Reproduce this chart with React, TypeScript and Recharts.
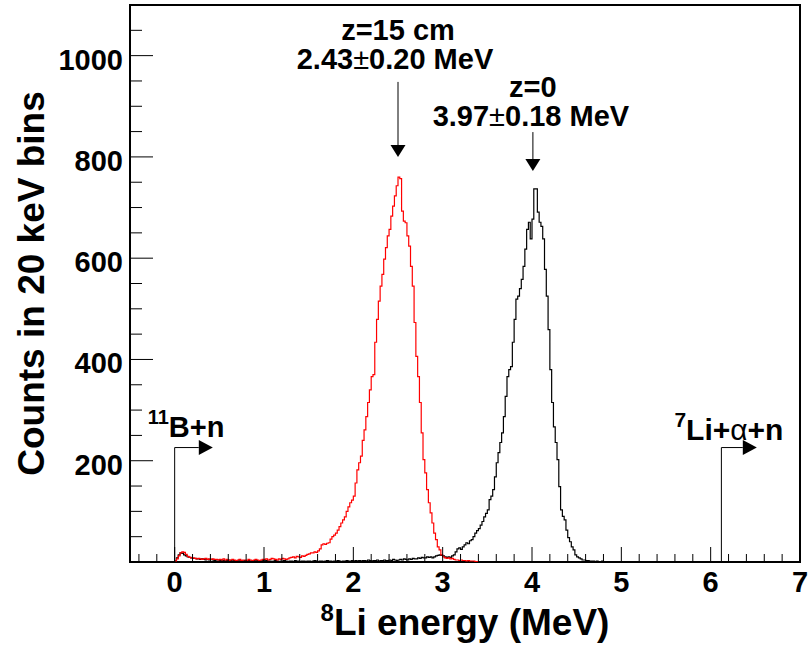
import { LineChart, Line, XAxis, YAxis, ReferenceArea, ReferenceLine, ReferenceDot, Label } from 'recharts';

// 20 keV bins starting at 0 MeV
const BIN = 0.02;

// z=15 cm (red)
const redCounts = [
  2, 6, 12, 18, 20, 19, 15, 11, 9, 8, 8,
  7, 6, 7, 6, 5, 6, 7, 5, 6, 5, 6, 5, 5, 4,
  5, 4, 6, 4, 5, 3, 4, 5, 4, 3, 4, 5, 3, 4, 4, 3, 5, 4, 3, 4, 5, 4, 3, 4, 5,
  5, 6, 4, 5, 7, 6, 5, 4, 6, 5, 7, 6, 5, 6, 8,
  9, 10, 8, 11, 10, 9, 12, 11, 13, 15,
  16, 18, 18, 20, 19, 22, 26, 34, 36, 35, 37, 38,
  45, 50, 53, 57, 63, 70, 77, 83, 89, 100, 109, 117, 122,
  130, 156, 182, 196, 209, 240, 261, 287, 315, 340, 366, 370, 434, 479, 515, 545, 568, 598, 621, 644, 657, 683, 703, 723, 743, 760, 757,
  693, 673, 670, 644, 624, 584, 545, 473, 406, 366, 315, 255, 202, 176, 143, 117, 97, 77, 57, 44, 30, 24, 14, 10,
  8, 7, 8, 6, 7, 5,
  4, 4, 3, 4, 3, 3, 2, 3, 2, 2, 2, 1, 1,
];

// z=0 (black)
const blackCounts = [
  2, 8, 14, 18, 17, 14, 12, 10, 9, 8,
  7, 7, 6, 6, 5, 6, 5, 4, 5, 4, 5, 4, 3, 4, 4,
  3, 4, 3, 2, 3, 4, 3, 2, 3, 3, 2, 4, 3, 2, 3, 2, 3, 2, 2, 3, 2, 3, 2, 2, 3,
  2, 3, 2, 2, 1, 2, 3, 2, 1, 2, 2, 3, 2, 1, 2, 2, 1, 3, 2, 2, 1, 2, 2, 1, 2,
  2, 1, 2, 3, 2, 1, 2, 2, 1, 2, 3, 2, 2, 1, 2, 2, 3, 2, 1, 2, 2, 3, 2, 2, 3,
  2, 3, 2, 3, 2, 3, 3, 2, 4, 3, 2, 3, 3, 4, 2, 3, 3, 4, 3, 3, 4, 3, 5, 4, 3,
  4, 5, 4, 6, 5, 4, 6, 5, 7, 6, 6, 8, 7, 9, 8,
  8, 10, 9, 10, 8, 10, 12, 13, 14, 13, 12, 10, 9, 10, 9, 12, 14, 20, 26, 28, 25,
  30, 34, 38, 36, 42, 44, 50, 57, 62, 66, 73, 80, 89, 96, 103, 123, 130, 143, 168, 196,
  216, 236, 255, 287, 327, 366, 380, 386, 434, 479, 519, 525, 540, 558, 584, 618, 657, 671, 638, 677,
  737, 737, 691, 671, 663, 638, 578, 525, 459, 380, 315, 267, 236, 202, 149, 103, 90, 83, 63, 48,
  40, 30, 24, 14, 10, 8, 6, 4, 4, 3, 3, 2, 2, 2, 1, 2, 1, 1, 2, 1, 1, 0, 1, 1, 0, 1, 0, 0, 1,
];

const xDomain = [-0.5, 7];
const yDomain = [0, 1100];
const xTicks = Array.from({ length: 38 }, (_, k) => (k - 2) / 5); // -0.4 .. 7, minor every 0.2
const yTicks = Array.from({ length: 21 }, (_, k) => (k + 1) * 50); // 50 .. 1050
const yLabels = [200, 400, 600, 800, 1000];

// annotation anchors (MeV, counts)
const peakMarks = [
  { x: 2.5, y: 800, shaft: 75, top: 'z=15 cm', bottom: ['2.43', '0.20 MeV'], topDy: 117, bottomDy: 88, dx: -3 },
  { x: 4.01, y: 772, shaft: 39, top: 'z=0', bottom: ['3.97', '0.18 MeV'], topDy: 74, bottomDy: 45, dx: -2 },
];
const thresholds = [
  { x: 0, y: 226, len: 0.27 },
  { x: 6.12, y: 226, len: 0.24 },
];

const FONT = "'Liberation Sans', Arial, Helvetica, sans-serif";

const toSteps = (counts: number[]) => {
  const pts = counts.map((c, i) => ({ x: +(i * BIN).toFixed(2), y: c }));
  pts.push({ x: +(counts.length * BIN).toFixed(2), y: counts[counts.length - 1] });
  return pts;
};

const redData = toSteps(redCounts);
const blackData = toSteps(blackCounts);

const isInt = (v: number) => Math.abs(v - Math.round(v)) < 1e-6;

const XTick = ({ x, y, payload }: any) => {
  const major = isInt(payload.value);
  return (
    <g>
      <line x1={x} y1={y} x2={x} y2={y - (major ? 15 : 8)} stroke="#000" strokeWidth={1} />
      {major && payload.value >= 0 && (
        <text x={x} y={y + 30} textAnchor="middle" fontFamily={FONT} fontWeight="bold" fontSize={29} fill="#000">
          {Math.round(payload.value)}
        </text>
      )}
    </g>
  );
};

const YTick = ({ x, y, payload }: any) => {
  const major = yLabels.includes(payload.value);
  return (
    <g>
      <line x1={x} y1={y} x2={x + (major ? 23 : 12)} y2={y} stroke="#000" strokeWidth={1} />
      {major && (
        <text x={x - 7} y={y + 14} textAnchor="end" fontFamily={FONT} fontWeight="bold" fontSize={29} fill="#000">
          {payload.value}
        </text>
      )}
    </g>
  );
};

const YTitle = ({ viewBox }: any) => {
  const cx = 44;
  const cy = viewBox.y + viewBox.height / 2;
  return (
    <text x={cx} y={cy} transform={`rotate(-90, ${cx}, ${cy})`} textAnchor="middle"
      fontFamily={FONT} fontWeight="bold" fontSize={37} fill="#000">
      Counts in 20 keV bins
    </text>
  );
};

const XTitle = ({ viewBox }: any) => (
  <text x={viewBox.x + viewBox.width / 2} y={viewBox.y + 73} textAnchor="middle"
    fontFamily={FONT} fontWeight="bold" fontSize={37} fill="#000">
    <tspan fontSize={24} dy={-14}>8</tspan>
    <tspan dy={14}>Li energy (MeV)</tspan>
  </text>
);

const PeakArrow = (m: any) => ({ cx, cy }: any) => (
  <g>
    <line x1={cx} y1={cy - m.shaft} x2={cx} y2={cy - 11} stroke="#000" strokeWidth={1} />
    <polygon points={`${cx - 7.5},${cy - 12} ${cx + 7.5},${cy - 12} ${cx},${cy}`} fill="#000" />
    <text x={cx} y={cy - m.topDy} textAnchor="middle" fontFamily={FONT} fontWeight="bold" fontSize={29} fill="#000">
      {m.top}
    </text>
    <text x={cx + m.dx} y={cy - m.bottomDy} textAnchor="middle" fontFamily={FONT} fontWeight="bold" fontSize={29} fill="#000">
      {m.bottom[0]}
      <tspan fontWeight="normal">±</tspan>
      {m.bottom[1]}
    </text>
  </g>
);

const BHead = ({ cx, cy }: any) => (
  <g>
    <polygon points={`${cx},${cy - 7.5} ${cx},${cy + 7.5} ${cx + 14},${cy}`} fill="#000" />
  </g>
);

const BLabel = ({ cx, cy }: any) => (
  <text x={cx} y={cy} fontFamily={FONT} fontWeight="bold" fontSize={29} fill="#000">
    <tspan fontSize={20} dy={-13}>11</tspan>
    <tspan dy={13}>B+n</tspan>
  </text>
);

const LiLabel = ({ cx, cy }: any) => (
  <text x={cx} y={cy} fontFamily={FONT} fontWeight="bold" fontSize={30} fill="#000">
    <tspan fontSize={21} dy={-13}>7</tspan>
    <tspan dy={13}>Li+</tspan>
    <tspan fontWeight="normal">α</tspan>
    <tspan>+n</tspan>
  </text>
);

export default function App() {
  return (
    <div style={{ position: 'absolute', left: 0, top: 0, background: '#fff' }}>
      <LineChart width={808} height={648} margin={{ top: 5, right: 8, bottom: 0, left: 0 }}>
        <XAxis type="number" dataKey="x" domain={xDomain} allowDataOverflow ticks={xTicks} interval={0}
          tick={<XTick />} tickSize={0} tickMargin={0} tickLine={false} axisLine={false} height={86}>
          <Label content={<XTitle />} />
        </XAxis>
        <YAxis type="number" domain={yDomain} allowDataOverflow ticks={yTicks} interval={0}
          tick={<YTick />} tickSize={0} tickMargin={0} tickLine={false} axisLine={false} width={130}>
          <Label content={<YTitle />} />
        </YAxis>
        <Line data={blackData} dataKey="y" type="stepAfter" stroke="#000" strokeWidth={1.2}
          dot={false} activeDot={false} isAnimationActive={false} />
        <Line data={redData} dataKey="y" type="stepAfter" stroke="#ff0000" strokeWidth={1.2}
          dot={false} activeDot={false} isAnimationActive={false} />
        <ReferenceArea x1={xDomain[0]} x2={xDomain[1]} y1={yDomain[0]} y2={yDomain[1]}
          fill="none" fillOpacity={0} stroke="#000" strokeWidth={2} />
        {thresholds.map((t, i) => (
          <ReferenceLine key={`v${i}`} segment={[{ x: t.x, y: 0 }, { x: t.x, y: t.y }]} stroke="#000" strokeWidth={1} />
        ))}
        {thresholds.map((t, i) => (
          <ReferenceLine key={`h${i}`} segment={[{ x: t.x, y: t.y }, { x: t.x + t.len, y: t.y }]} stroke="#000" strokeWidth={1} />
        ))}
        {thresholds.map((t, i) => (
          <ReferenceDot key={`a${i}`} x={t.x + t.len} y={t.y} shape={<BHead />} />
        ))}
        <ReferenceDot x={thresholds[0].x} y={thresholds[0].y} shape={(p: any) => <BLabel cx={p.cx - 27} cy={p.cy - 11} />} />
        <ReferenceDot x={thresholds[1].x} y={thresholds[1].y} shape={(p: any) => <LiLabel cx={p.cx - 47} cy={p.cy - 8} />} />
        {peakMarks.map((m, i) => (
          <ReferenceDot key={`p${i}`} x={m.x} y={m.y} shape={PeakArrow(m)} />
        ))}
      </LineChart>
    </div>
  );
}
